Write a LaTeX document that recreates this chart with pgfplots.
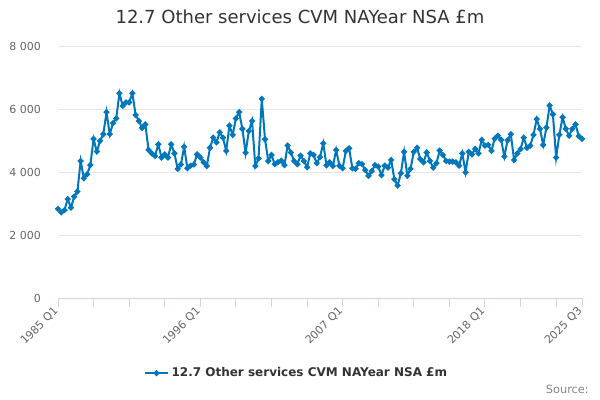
\documentclass[border=0pt]{standalone}
\usepackage{fontspec}
\setmainfont{DejaVu Sans}
\usepackage{pgfplots}
\pgfplotsset{compat=1.18}
\definecolor{linec}{RGB}{0,118,189}
\definecolor{gridc}{RGB}{230,230,230}
\definecolor{axisc}{RGB}{204,214,235}
\definecolor{tickc}{RGB}{102,102,102}
\definecolor{titlec}{RGB}{51,51,51}
\begin{document}
\begin{tikzpicture}[x=1pt,y=1pt]
\path (0,0) rectangle (450,300);
\node[font=\fontsize{13.5}{16}\selectfont, text=titlec, anchor=base] at (225,282) {12.7 Other services CVM NAYear NSA £m};
\node[font=\fontsize{8.5}{10}\selectfont, text=tickc!80, anchor=base east, inner sep=0pt] at (441.75,5) {Source:};
\begin{axis}[
  at={(43.5pt,76.5pt)}, anchor=south west,
  scale only axis, width=393pt, height=189pt,
  xmin=0, xmax=162, ymin=0, ymax=8000,
  axis lines*=left,
  y axis line style={draw=none},
  x axis line style={draw=axisc, line width=0.75pt},
  ytick={0,2000,4000,6000,8000},
  yticklabels={0,2 000,4 000,6 000,8 000},
  ymajorgrids, grid style={draw=gridc, line width=0.75pt},
  ytick style={draw=none},
  yticklabel style={font=\fontsize{8.25}{10}\selectfont, text=tickc, xshift=-2.25pt},
  xtick={0,44,88,132,162},
  minor xtick={11,22,33,55,66,77,99,110,121,143,154},
  xticklabels={1985 Q1,1996 Q1,2007 Q1,2018 Q1,2025 Q3},
  xtick style={draw=axisc, line width=0.75pt},
  minor x tick style={draw=axisc, line width=0.75pt},
  tick align=outside, major tick length=7pt, minor tick length=7pt,
  xticklabel style={font=\fontsize{8.25}{10}\selectfont, text=tickc, rotate=45, anchor=east, xshift=1.5pt},
  legend style={at={(0.456,-0.298)}, anchor=center, draw=none, fill=none,
    font=\bfseries\fontsize{9}{11}\selectfont, text=titlec},
  clip=false,
]
\addplot[color=linec, line width=1.5pt, mark=*, mark size=1.4pt] coordinates {
(0,2830)(1,2720)(2,2790)(3,3140)(4,2870)(5,3220)(6,3380)(7,4350)(8,3800)(9,3930)
(10,4220)(11,5050)(12,4650)(13,4990)(14,5200)(15,5900)(16,5200)(17,5550)(18,5700)(19,6500)
(20,6100)(21,6210)(22,6210)(23,6500)(24,5810)(25,5620)(26,5400)(27,5510)(28,4700)(29,4590)
(30,4510)(31,4880)(32,4460)(33,4560)(34,4460)(35,4880)(36,4590)(37,4100)(38,4240)(39,4800)
(40,4120)(41,4200)(42,4240)(43,4560)(44,4460)(45,4310)(46,4190)(47,4770)(48,5090)(49,4940)
(50,5260)(51,5090)(52,4670)(53,5470)(54,5180)(55,5700)(56,5900)(57,5370)(58,4610)(59,5300)
(60,5620)(61,4190)(62,4430)(63,6320)(64,5040)(65,4350)(66,4540)(67,4250)(68,4310)(69,4360)
(70,4220)(71,4840)(72,4620)(73,4350)(74,4250)(75,4520)(76,4350)(77,4150)(78,4590)(79,4540)
(80,4280)(81,4470)(82,4910)(83,4210)(84,4310)(85,4190)(86,4700)(87,4200)(88,4120)(89,4670)
(90,4750)(91,4120)(92,4100)(93,4280)(94,4250)(95,4060)(96,3880)(97,4030)(98,4220)(99,4170)
(100,3900)(101,4200)(102,4140)(103,4380)(104,3770)(105,3570)(106,3960)(107,4640)(108,3880)(109,4100)
(110,4640)(111,4770)(112,4410)(113,4310)(114,4620)(115,4350)(116,4140)(117,4280)(118,4680)(119,4540)
(120,4350)(121,4330)(122,4330)(123,4310)(124,4200)(125,4590)(126,3990)(127,4640)(128,4560)(129,4730)
(130,4590)(131,5020)(132,4840)(133,4860)(134,4670)(135,5060)(136,5150)(137,5020)(138,4490)(139,5010)
(140,5200)(141,4380)(142,4590)(143,4730)(144,5090)(145,4770)(146,4840)(147,5180)(148,5680)(149,5370)
(150,4860)(151,5410)(152,6110)(153,5830)(154,4460)(155,5180)(156,5740)(157,5370)(158,5150)(159,5370)
(160,5510)(161,5140)(162,5050)
};
\addlegendentry{12.7 Other services CVM NAYear NSA £m}
\end{axis}
\end{tikzpicture}
\end{document}
